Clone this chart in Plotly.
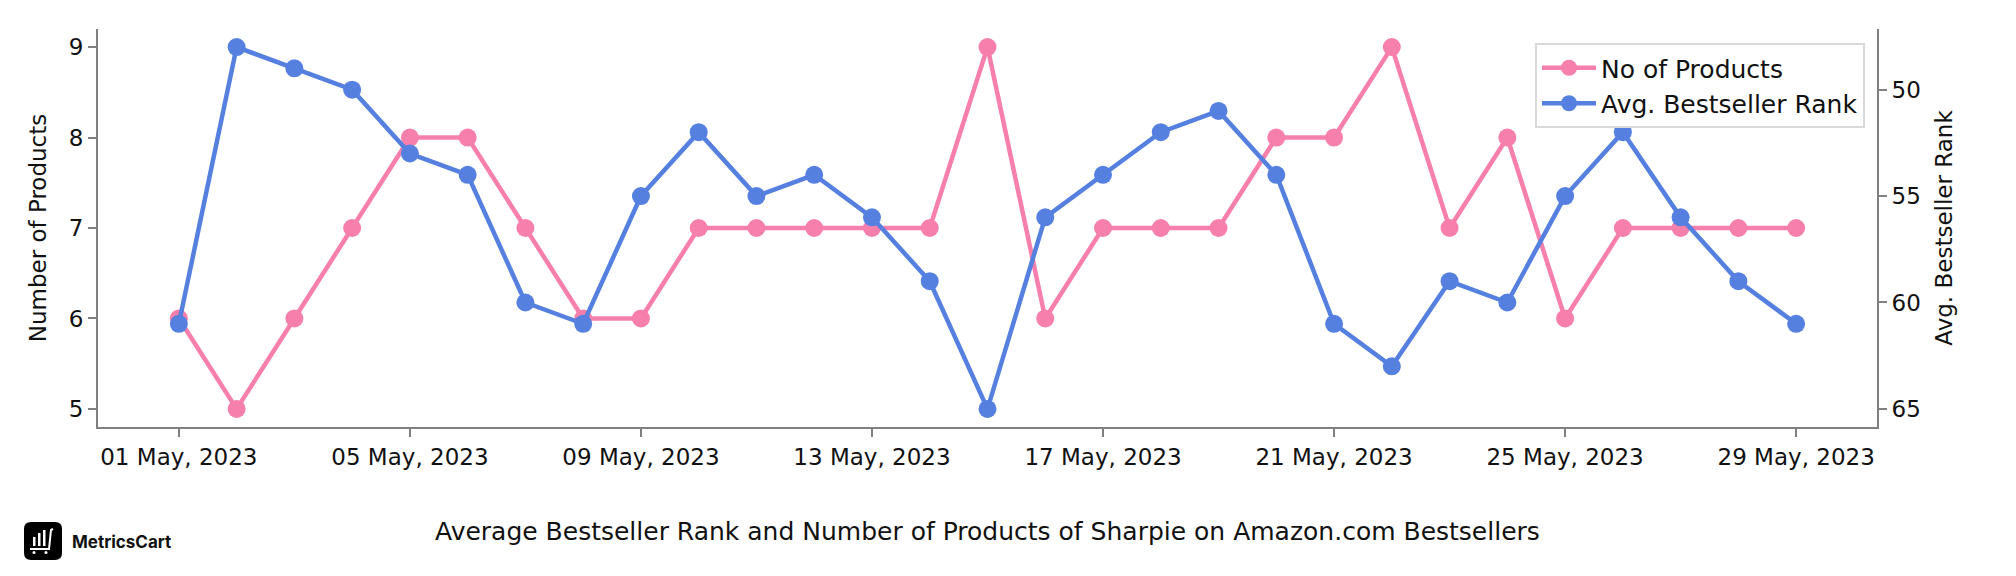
import plotly.graph_objects as go

dates = [f"2023-05-{d:02d}" for d in range(1, 30)]
no_of_products = [6, 5, 6, 7, 8, 8, 7, 6, 6, 7, 7, 7, 7, 7, 9, 6, 7, 7, 7, 8, 8, 9, 7, 8, 6, 7, 7, 7, 7]
avg_rank = [61, 48, 49, 50, 53, 54, 60, 61, 55, 52, 55, 54, 56, 59, 65, 56, 54, 52, 51, 54, 61, 63, 59, 60, 55, 52, 56, 59, 61]

left_ticks = [5, 6, 7, 8, 9]
right_ticks = [50, 55, 60, 65]

PINK = "#F67FAB"
BLUE = "#5580E0"
AXIS = "#808080"
FONT = "DejaVu Sans, sans-serif"
TXT = "#111111"

# the page body has an 8px margin, so the figure is laid out 8px in from the window
OFF = 8
W, H = 2000, 560
L, T = 98 - OFF, 29 - OFF
R = W - (1877 - OFF)
B = H - (427 - OFF)
PW, PH = W - L - R, H - T - B


def px(x):  # window x -> paper
    return (x - OFF - L) / PW


def py(y):  # window y -> paper
    return (H - B - (y - OFF)) / PH


fig = go.Figure()
fig.add_trace(go.Scatter(
    x=dates, y=no_of_products, name="No of Products", mode="lines+markers",
    line=dict(color=PINK, width=4.5), marker=dict(color=PINK, size=18),
    yaxis="y"))
fig.add_trace(go.Scatter(
    x=dates, y=avg_rank, name="Avg. Bestseller Rank", mode="lines+markers",
    line=dict(color=BLUE, width=4.5), marker=dict(color=BLUE, size=18),
    yaxis="y2"))

axis_common = dict(
    showgrid=False, zeroline=False, automargin=False,
    showline=True, linecolor=AXIS, linewidth=2,
    ticks="outside", ticklen=8, tickwidth=2, tickcolor=AXIS,
    tickfont=dict(size=23, color=TXT),
)

fig.update_layout(
    width=W, height=H, autosize=False,
    margin=dict(l=L, r=R, t=T, b=B, autoexpand=False),
    paper_bgcolor="white", plot_bgcolor="white",
    font=dict(family=FONT, size=23, color=TXT),
    showlegend=True,
    legend=dict(
        x=px(1865), y=py(43), xanchor="right", yanchor="top",
        bgcolor="white", bordercolor="#d9d9d9", borderwidth=2,
        font=dict(size=25, color=TXT), itemwidth=54, tracegroupgap=0,
    ),
    xaxis=dict(
        type="date",
        range=["2023-04-29 14:24", "2023-05-30 09:36"],
        tick0="2023-05-01", dtick=4 * 86400000, tickformat="%d %b, %Y",
        **axis_common,
    ),
    yaxis=dict(
        range=[4.8, 9.2], tickvals=left_ticks,
        title=dict(text="Number of Products", font=dict(size=23, color=TXT), standoff=16),
        **axis_common,
    ),
    yaxis2=dict(
        overlaying="y", side="right",
        range=[65.85, 47.15], tickvals=right_ticks,
        title=dict(text="Avg. Bestseller Rank", font=dict(size=23, color=TXT), standoff=16),
        **axis_common,
    ),
)

fig.add_annotation(
    text="Average Bestseller Rank and Number of Products of Sharpie on Amazon.com Bestsellers",
    xref="paper", yref="paper", x=0.5, y=py(531), xanchor="center", yanchor="middle",
    showarrow=False, font=dict(size=25, color=TXT))


# logo
def rrect(x0, y0, x1, y1, r):
    X0, X1 = px(x0), px(x1)
    Y0, Y1 = py(y0), py(y1)
    rx, ry = r / PW, r / PH
    return (f"M {X0+rx},{Y0} L {X1-rx},{Y0} Q {X1},{Y0} {X1},{Y0-ry} "
            f"L {X1},{Y1+ry} Q {X1},{Y1} {X1-rx},{Y1} L {X0+rx},{Y1} "
            f"Q {X0},{Y1} {X0},{Y1+ry} L {X0},{Y0-ry} Q {X0},{Y0} {X0+rx},{Y0} Z")


fig.add_shape(type="path", path=rrect(24, 522, 62, 560, 7), xref="paper", yref="paper",
              fillcolor="black", line=dict(width=0), layer="above")
for (bx, top) in [(33, 537), (38, 533), (43, 530)]:
    fig.add_shape(type="rect", xref="paper", yref="paper",
                  x0=px(bx), x1=px(bx + 2.5), y0=py(546), y1=py(top),
                  fillcolor="white", line=dict(width=0), layer="above")
fig.add_shape(type="path", xref="paper", yref="paper",
              path=f"M {px(30)},{py(549)} L {px(49)},{py(549)} L {px(51)},{py(530)} L {px(53)},{py(529)}",
              line=dict(color="white", width=2), layer="above")
for wx in [34, 46]:
    fig.add_shape(type="circle", xref="paper", yref="paper",
                  x0=px(wx - 1.5), x1=px(wx + 1.5), y0=py(554), y1=py(551),
                  fillcolor="white", line=dict(width=0), layer="above")
fig.add_annotation(text="<b>MetricsCart</b>", xref="paper", yref="paper",
                   x=px(70), y=py(542), xanchor="left", yanchor="middle",
                   showarrow=False, font=dict(family="Inter, sans-serif", size=17, color=TXT))

fig.write_html("out.html")
